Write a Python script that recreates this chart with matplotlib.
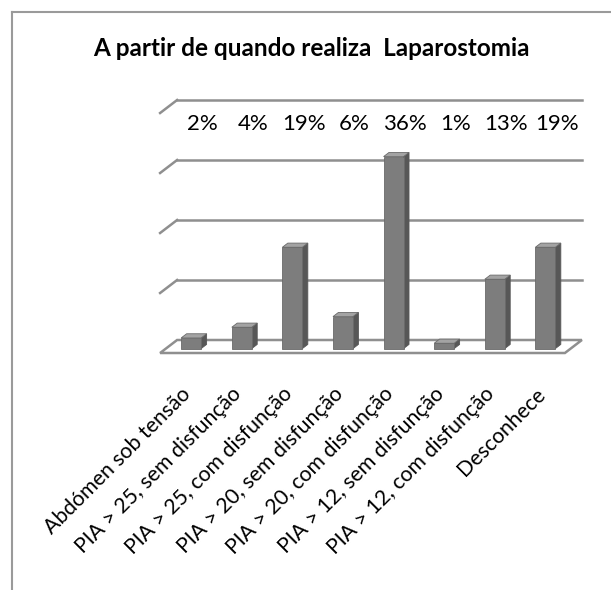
import matplotlib
matplotlib.use('Agg')
from matplotlib import pyplot as plt
from matplotlib.patches import Polygon
from matplotlib.lines import Line2D


categories = [
    'Abdómen sob tensão',
    'PIA > 25, sem disfunção',
    'PIA > 25, com disfunção',
    'PIA > 20, sem disfunção',
    'PIA > 20, com disfunção',
    'PIA > 12, sem disfunção',
    'PIA > 12, com disfunção',
    'Desconhece',
]
values = [2, 4, 19, 6, 36, 1, 13, 19]
value_labels = ['2%', '4%', '19%', '6%', '36%', '1%', '13%', '19%']
title = 'A partir de quando realiza  Laparostomia'

W, H = 611, 590
FONT = ['Lato', 'DejaVu Sans']

# pseudo 3d layout (pixels -> data units)
px_cat = 50.6      # px per category
px_val = 5.333     # px per percent
x0_px, y0_px = 185.4, 353
depth_px = (17, -13)
dx = depth_px[0] / px_cat
dy = -depth_px[1] / px_val
grid_step = 11.25
n_grid = 4
bar_w = 20 / px_cat
d_front, d_back = 0.34, 0.66

front_col = '#7d7d7d'
side_col = '#575757'
top_col = '#a3a3a3'
edge_col = '#6a6a6a'
grid_col = '#8f8f8f'


def draw():
    fig = plt.figure(figsize=(W / 100, H / 100), dpi=100)
    ax = fig.add_axes([0, 0, 1, 1])
    ax.set_xlim(-x0_px / px_cat, (W - x0_px) / px_cat)
    ax.set_ylim((y0_px - H) / px_val, y0_px / px_val)
    ax.axis('off')

    n = len(categories)
    left, right = -0.5, n - 0.5

    # floor
    ax.add_patch(Polygon([(left, 0), (right, 0), (right + dx, dy), (left + dx, dy)],
                         closed=True, facecolor='white', edgecolor=grid_col, lw=1.8, zorder=1))

    # back wall gridlines and left wall ticks
    for k in range(1, n_grid + 1):
        y = k * grid_step
        ax.plot([left + dx, right + dx], [y + dy, y + dy], color=grid_col, lw=1.8, zorder=1)
        ax.plot([left, left + dx], [y, y + dy], color=grid_col, lw=1.8, zorder=1)

    # bars
    for i, v in enumerate(values):
        xl, xr = i - bar_w / 2, i + bar_w / 2
        fx, fy = d_front * dx, d_front * dy
        bx, by = d_back * dx, d_back * dy
        ax.add_patch(Polygon([(xr + fx, fy), (xr + bx, by), (xr + bx, v + by), (xr + fx, v + fy)],
                             closed=True, facecolor=side_col, edgecolor=side_col, lw=0.6, zorder=3))
        ax.add_patch(Polygon([(xl + fx, v + fy), (xr + fx, v + fy), (xr + bx, v + by), (xl + bx, v + by)],
                             closed=True, facecolor=top_col, edgecolor=edge_col, lw=0.6, zorder=3))
        ax.add_patch(Polygon([(xl + fx, fy), (xr + fx, fy), (xr + fx, v + fy), (xl + fx, v + fy)],
                             closed=True, facecolor=front_col, edgecolor=edge_col, lw=0.6, zorder=4))

    # percentage labels
    label_y = 3.6 * grid_step + dy
    for i, lab in enumerate(value_labels):
        ax.text(i + dx, label_y, lab, ha='center', va='center', fontsize=16,
                family=FONT, color='black')

    # category labels
    cat_y = -(391 - y0_px) / px_val
    for i, c in enumerate(categories):
        ax.text(i + 0.05, cat_y, c, ha='right', va='center', rotation=45,
                rotation_mode='anchor', fontsize=15.3, family=FONT, color='black')

    fig.text(311.5 / W, 1 - 48 / H, title, ha='center', va='center', fontsize=17.5,
             fontweight='bold', family=FONT)

    # chart border
    fig.add_artist(Line2D([12 / W, 12 / W], [0, 1 - 12 / H], transform=fig.transFigure,
                          color='#9a9a9a', lw=1.5))
    fig.add_artist(Line2D([12 / W, 1], [1 - 12 / H, 1 - 12 / H], transform=fig.transFigure,
                          color='#9a9a9a', lw=1.5))

    fig.savefig('out.png', dpi=100, facecolor='white')


if __name__ == '__main__':
    draw()
